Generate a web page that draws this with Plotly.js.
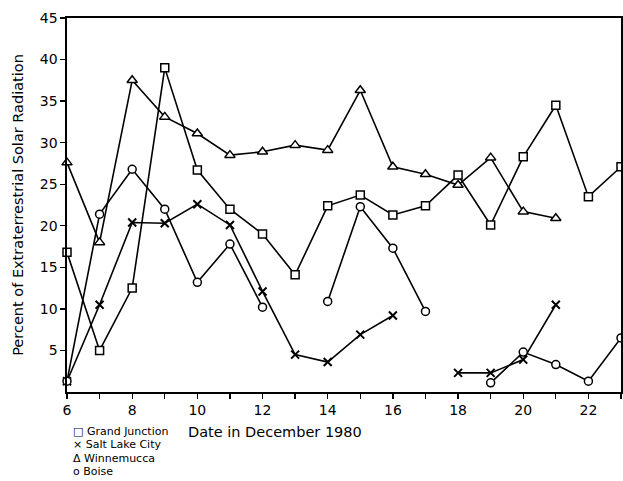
<!DOCTYPE html>
<html>
<head>
<meta charset="utf-8">
<script src="https://cdn.plot.ly/plotly-3.0.1.min.js"></script>
<style>
  html, body { margin: 0; padding: 0; background: #fff; }
  #chart { width: 623px; height: 481px; }
</style>
</head>
<body>
<div id="chart"></div>
<script>
// Daily solar radiation, December 1980, as percent of extraterrestrial radiation
const days = [6, 7, 8, 9, 10, 11, 12, 13, 14, 15, 16, 17, 18, 19, 20, 21, 22, 23];

const grandJunction = [16.8, 5.0, 12.5, 39.0, 26.7, 22.0, 19.0, 14.1, 22.4, 23.7, 21.3, 22.4, 26.1, 20.1, 28.3, 34.5, 23.5, 27.1];
const saltLakeCity  = [1.3, 10.5, 20.4, 20.3, 22.6, 20.1, 12.1, 4.5, 3.6, 6.9, 9.2, null, 2.3, 2.3, 3.9, 10.5, null, null];
const winnemucca    = [27.6, 18.0, 37.5, 33.1, 31.1, 28.5, 28.9, 29.7, 29.1, 36.3, 27.1, 26.2, 24.9, 28.2, 21.7, 20.9, null, null];
const boise         = [1.3, 21.4, 26.8, 22.0, 13.2, 17.8, 10.2, null, 10.9, 22.3, 17.3, 9.7, null, 1.1, 4.8, 3.3, 1.3, 6.5];

const xTickVals = [6, 7, 8, 9, 10, 11, 12, 13, 14, 15, 16, 17, 18, 19, 20, 21, 22, 23];
const xTickText = ['6', '', '8', '', '10', '', '12', '', '14', '', '16', '', '18', '', '20', '', '22', ''];
const yTickVals = [5, 10, 15, 20, 25, 30, 35, 40, 45];

const legendLines = ['\u25A1 Grand Junction', '\u00D7 Salt Lake City', '\u0394 Winnemucca', 'o Boise'];

const FONT = 'DejaVu Sans, sans-serif';

function series(name, y, symbol, size) {
  const isX = symbol.indexOf('x') === 0;
  return {
    type: 'scatter', mode: 'lines+markers', name: name,
    x: days, y: y, connectgaps: false,
    line: { color: '#000', width: 1.6 },
    marker: {
      symbol: symbol, size: size,
      color: isX ? '#000' : '#fff',
      line: { color: '#000', width: isX ? 2 : 1.5 }
    },
    cliponaxis: false
  };
}

const data = [
  series('Grand Junction', grandJunction, 'square', 8),
  series('Salt Lake City', saltLakeCity, 'x-thin', 8),
  series('Winnemucca', winnemucca, 'triangle-up', 9),
  series('Boise', boise, 'circle', 8)
];

// Key below the plot, one line per station (pixel rows converted to paper units)
const plotTop = 18, plotH = 374;
const legendRows = [431, 444.5, 458, 471];
const legendAnnotations = legendLines.map((txt, i) => ({
  xref: 'paper', yref: 'paper', x: 0.007, y: (plotTop + plotH - legendRows[i]) / plotH,
  xanchor: 'left', yanchor: 'middle', align: 'left', showarrow: false,
  text: txt, font: { family: FONT, size: 11 }
}));

const layout = {
  width: 623, height: 481,
  margin: { l: 67, r: 2, t: 18, b: 89 },
  paper_bgcolor: '#fff', plot_bgcolor: '#fff',
  showlegend: false,
  font: { family: FONT, color: '#000', size: 14 },
  xaxis: {
    range: [6, 23], tickvals: xTickVals, ticktext: xTickText,
    ticks: 'outside', ticklen: 5, tickwidth: 1.3, tickcolor: '#000',
    showline: true, linecolor: '#000', linewidth: 1.6, mirror: true,
    showgrid: false, zeroline: false,
    tickfont: { family: FONT, size: 14 }
  },
  yaxis: {
    range: [0, 45], tickvals: yTickVals,
    ticks: 'outside', ticklen: 5, tickwidth: 1.3, tickcolor: '#000',
    showline: true, linecolor: '#000', linewidth: 1.6, mirror: true,
    showgrid: false, zeroline: false,
    tickfont: { family: FONT, size: 14 },
    title: { text: 'Percent of Extraterrestrial Solar Radiation', font: { family: FONT, size: 14.5 }, standoff: 12 }
  },
  annotations: [
    {
      xref: 'paper', yref: 'paper', x: 0.375, y: -0.107,
      xanchor: 'center', yanchor: 'middle', showarrow: false,
      text: 'Date in December 1980', font: { family: FONT, size: 14.5 }
    }
  ].concat(legendAnnotations)
};

Plotly.newPlot('chart', data, layout, { staticPlot: true, displayModeBar: false });
</script>
</body>
</html>
